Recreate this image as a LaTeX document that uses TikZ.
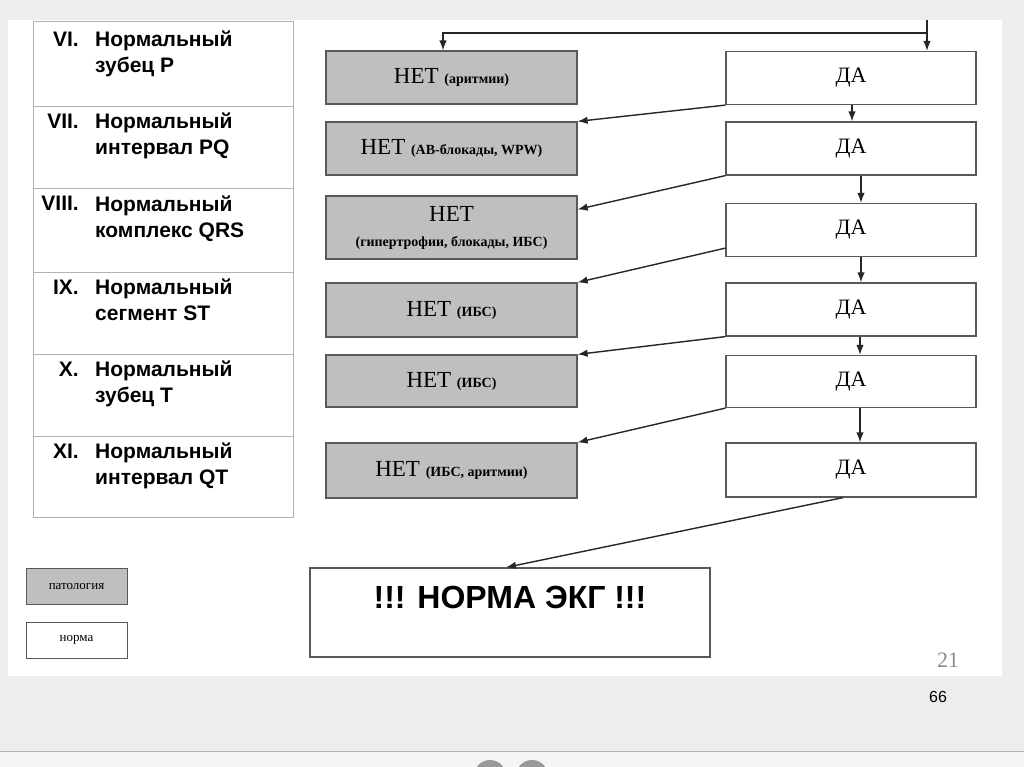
\documentclass[tikz,border=0pt]{standalone}
\usepackage{fontspec}
\setmainfont{Liberation Serif}
\newfontfamily\arialfont{Liberation Sans}
\usetikzlibrary{arrows.meta,positioning,calc}
\newcommand{\netnote}[1]{{\fontsize{14}{17}\selectfont\bfseries(#1)}}

\begin{document}
\begin{tikzpicture}[x=1pt,y=-1pt,>=Latex,
  net/.style={draw=black!65,fill=black!25,line width=1.2pt,minimum width=251pt,inner sep=0pt,align=center,font=\fontsize{23}{25}\selectfont},
  da/.style={draw=black!65,fill=white,line width=1.2pt,minimum width=250pt,minimum height=53pt,inner sep=0pt,font=\fontsize{22}{26}\selectfont},
  ar/.style={-{Latex[length=10pt,width=7.5pt]},line width=1.4pt,black!85},
  num/.style={anchor=base east,inner sep=0pt,font=\arialfont\bfseries\fontsize{21}{26}\selectfont},
  row/.style={anchor=base west,align=left,inner sep=0pt,font=\arialfont\bfseries\fontsize{21}{26}\selectfont},
  key/.style={draw=black!65,line width=1pt,minimum width=101pt,minimum height=36pt,inner sep=0pt,font=\fontsize{13}{15}\selectfont}]
\useasboundingbox (0,0) rectangle (1024,767);
% slide background
\fill[black!7] (0,0) rectangle (1024,767);
\fill[white] (8,20) rectangle (1002,676);
\draw[black!30,line width=1pt] (0,751) -- (1024,751);
\fill[black!4] (0,752) rectangle (1024,767);
\fill[black!40] (490,776) circle (16); \fill[black!40] (532,776) circle (16);
% criteria table (row nodes sit on the baseline of their last line)
\draw[black!30,line width=1pt] (33,22) rectangle (293,517);
\foreach \y in {107,189,272,354,436} \draw[black!30,line width=1pt] (33,\y) -- (293,\y);
\node[num] (n6) at (79,47) {VI.};   \node[row] (t6) at (95,73) {Нормальный\\зубец P};
\node[num] (n7) at (79,129) {VII.}; \node[row] (t7) at (95,155) {Нормальный\\интервал PQ};
\node[num] (n8) at (79,211) {VIII.};\node[row] (t8) at (95,237) {Нормальный\\комплекс QRS};
\node[num] (n9) at (79,294) {IX.};  \node[row] (t9) at (95,320) {Нормальный\\сегмент ST};
\node[num] (n10) at (79,376) {X.};  \node[row] (t10) at (95,402) {Нормальный\\зубец T};
\node[num] (n11) at (79,458) {XI.}; \node[row] (t11) at (95,484) {Нормальный\\интервал QT};
% flow boxes
\node[net,minimum height=53pt] (net1) at (451.5,77.5) {НЕТ \netnote{аритмии}};
\node[net,minimum height=53pt] (net2) at (451.5,148.5) {НЕТ \netnote{АВ-блокады, WPW}};
\node[net,minimum height=63pt] (net3) at (451.5,227.5) {НЕТ\\\netnote{гипертрофии, блокады, ИБС}};
\node[net,minimum height=54pt] (net4) at (451.5,310) {НЕТ \netnote{ИБС}};
\node[net,minimum height=52pt] (net5) at (451.5,381) {НЕТ \netnote{ИБС}};
\node[net,minimum height=55pt] (net6) at (451.5,470.5) {НЕТ \netnote{ИБС, аритмии}};
\node[da] (da1) at (851,78) {ДА};
\node[da] (da2) at (851,148.5) {ДА};
\node[da] (da3) at (851,230) {ДА};
\node[da] (da4) at (851,309.5) {ДА};
\node[da,minimum height=52pt] (da5) at (851,381.5) {ДА};
\node[da,minimum height=54pt] (da6) at (851,470) {ДА};
\node[draw=black!65,line width=1.2pt,minimum width=400pt,minimum height=89pt,inner sep=0pt,text depth=30pt,
  font=\arialfont\bfseries\fontsize{32}{36}\selectfont] (norm) at (510,612.5) {!!! НОРМА ЭКГ !!!};
% legend
\node[key,fill=black!25] (keypath) at (76.5,586) {патология};
\node[key,fill=white] (keynorm) at (76.5,640) {норма};
% connectors
\coordinate (top) at (927,20); \coordinate (split) at (927,33);
\draw[ar] (top) -- (top |- da1.north);
\draw[ar] (split) -| ([xshift=-8.5pt]net1.north);
\draw[ar] ([xshift=1pt]da1.south) -- ([xshift=1pt]da2.north);
\draw[ar] ([xshift=10pt]da2.south) -- ([xshift=10pt]da3.north);
\draw[ar] ([xshift=10pt]da3.south) -- ([xshift=10pt]da4.north);
\draw[ar] ([xshift=9pt]da4.south) -- ([xshift=9pt]da5.north);
\draw[ar] ([xshift=9pt]da5.south) -- ([xshift=9pt]da6.north);
\draw[ar] (da1.south west) -- (net2.north east);
\draw[ar] (da2.south west) -- ([yshift=-14pt]net3.north east);
\draw[ar] ([yshift=9pt]da3.south west) -- (net4.north east);
\draw[ar] (da4.south west) -- (net5.north east);
\draw[ar] (da5.south west) -- (net6.north east);
\draw[ar] ([xshift=-8pt]da6.south) -- ([xshift=-4pt]norm.north);
% page numbers
\node[text=black!45,font=\fontsize{22}{24}\selectfont] (pg) at (948,660) {21};
\node[font=\arialfont\fontsize{16}{18}\selectfont] (slide) at (938,697) {66};
\end{tikzpicture}
\end{document}
